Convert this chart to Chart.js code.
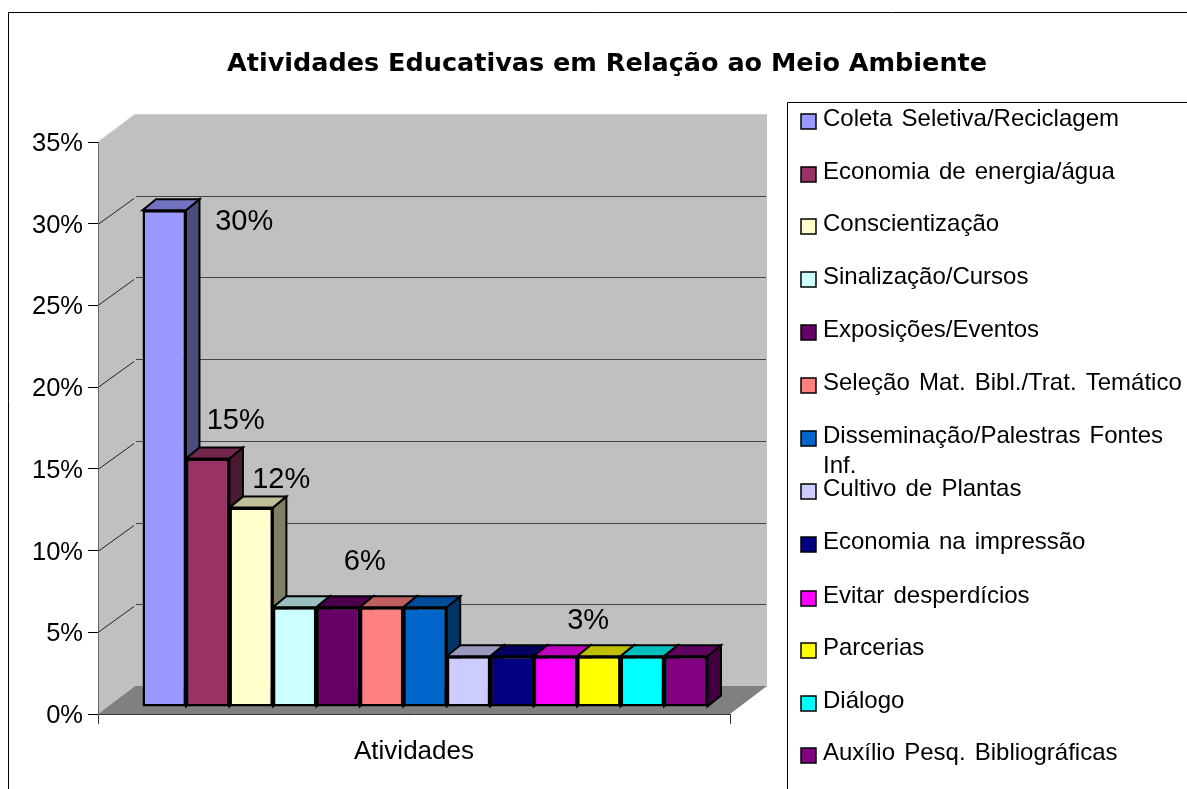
<!DOCTYPE html>
<html><head><meta charset="utf-8">
<script src="https://cdn.jsdelivr.net/npm/chart.js@4/dist/chart.umd.min.js"></script>
<style>html,body{margin:0;padding:0;background:#fff;overflow:hidden}canvas{display:block}</style>
</head><body><canvas id="c" width="1187" height="789"></canvas>
<script>
const titleText = 'Atividades Educativas em Relação ao Meio Ambiente';
const categories = ['Atividades'];
const seriesNames = ['Coleta Seletiva/Reciclagem','Economia de energia/água','Conscientização','Sinalização/Cursos','Exposições/Eventos','Seleção Mat. Bibl./Trat. Temático','Disseminação/Palestras Fontes Inf.','Cultivo de Plantas','Economia na impressão','Evitar desperdícios','Parcerias','Diálogo','Auxílio Pesq. Bibliográficas'];
const seriesValues = [30.4,15.2,12.2,6.1,6.1,6.1,6.1,3.1,3.1,3.1,3.1,3.1,3.1];
const seriesColors = ['#9999FF','#993366','#FFFFCC','#CCFFFF','#660066','#FF8080','#0066CC','#CCCCFF','#000080','#FF00FF','#FFFF00','#00FFFF','#800080'];
const yTicks = [0,5,10,15,20,25,30,35];
const valueLabels = ['30%','15%','12%','6%','3%'];

const FONT = '"Liberation Sans", Arial, sans-serif';
const D = {wdx:37, wdy:-28, bx:11, by:-7, tdx:13.5, tdy:-11};

function shade(hex,f){const n=parseInt(hex.slice(1),16);return `rgb(${((n>>16)&255)*f|0},${((n>>8)&255)*f|0},${(n&255)*f|0})`;}
function poly(ctx,pts,fill,stroke,lw){ctx.beginPath();pts.forEach((p,i)=>i?ctx.lineTo(p[0],p[1]):ctx.moveTo(p[0],p[1]));ctx.closePath();if(fill){ctx.fillStyle=fill;ctx.fill();}if(stroke){ctx.strokeStyle=stroke;ctx.lineWidth=lw||1;ctx.lineJoin='miter';ctx.stroke();}}

const scene = {
  id:'scene',
  afterLayout(chart){ chart.titleBlock.left=0; chart.titleBlock.right=1214; },
  beforeDraw(chart){
    const {ctx,chartArea:a,scales:{y}}=chart;
    ctx.save();
    ctx.fillStyle='#fff';ctx.fillRect(0,0,1187,789);
    ctx.strokeStyle='#000';ctx.lineWidth=1;
    ctx.beginPath();ctx.moveTo(8.5,789);ctx.lineTo(8.5,12.5);ctx.lineTo(1187,12.5);ctx.stroke();
    const {wdx:dx,wdy:dy}=D;
    poly(ctx,[[a.left,a.top],[a.left+dx,a.top+dy],[a.left+dx,a.bottom+dy],[a.left,a.bottom]],'#C0C0C0');
    poly(ctx,[[a.left+dx,a.top+dy],[a.right+dx,a.top+dy],[a.right+dx,a.bottom+dy],[a.left+dx,a.bottom+dy]],'#C0C0C0');
    ctx.strokeStyle='#D0D0D0';ctx.lineWidth=1;
    ctx.beginPath();ctx.moveTo(a.left,a.top);ctx.lineTo(a.left+dx,a.top+dy+.5);ctx.lineTo(a.right+dx,a.top+dy+.5);ctx.stroke();
    poly(ctx,[[a.left,a.bottom],[a.left+dx,a.bottom+dy],[a.right+dx,a.bottom+dy],[a.right,a.bottom]],'#808080');
    yTicks.slice(1,-1).forEach(v=>{
      const py=Math.round(y.getPixelForValue(v))+.5;
      ctx.strokeStyle='#222';ctx.lineWidth=1;
      ctx.beginPath();ctx.moveTo(a.left,py);ctx.lineTo(a.left+dx-1,py+dy+2);ctx.stroke();
      ctx.strokeStyle='#444';
      ctx.beginPath();ctx.moveTo(a.left+dx+1,py+dy);ctx.lineTo(a.right+dx-1,py+dy);ctx.stroke();
    });
    ctx.restore();
  },
  beforeDatasetsDraw(chart){
    const ctx=chart.ctx;
    ctx.save();
    ctx.translate(D.bx,D.by);
    chart.data.datasets.forEach((ds,i)=>{
      const b=chart.getDatasetMeta(i).data[0];
      const l=b.x-b.width/2,r=b.x+b.width/2,t=b.y,bo=b.base,dx=D.tdx,dy=D.tdy;
      poly(ctx,[[r,t],[r+dx,t+dy],[r+dx,bo+dy],[r,bo]],shade(ds.backgroundColor,.5),'#000',2);
      poly(ctx,[[l,t],[l+dx,t+dy],[r+dx,t+dy],[r,t]],shade(ds.backgroundColor,.75),'#000',2);
    });
  },
  afterDatasetsDraw(chart){
    const ctx=chart.ctx;
    ctx.restore();
    const bar=i=>chart.getDatasetMeta(i).data[0];
    const place=[[bar(0).x+D.bx+80,bar(0).y+D.by+12],[bar(1).x+D.bx+28,bar(1).y+D.by-38],[bar(2).x+D.bx+30,bar(2).y+D.by-28],
      [(bar(3).x+bar(6).x)/2+D.bx+5,bar(3).y+D.by-45],[(bar(7).x+bar(12).x)/2+D.bx+11,bar(7).y+D.by-35]];
    ctx.save();
    ctx.fillStyle='#000';ctx.font='29px '+FONT;ctx.textAlign='center';ctx.textBaseline='middle';
    valueLabels.forEach((t,i)=>ctx.fillText(t,place[i][0],place[i][1]));
    const lx=787.5,ly=102.5;
    ctx.strokeStyle='#000';ctx.lineWidth=1;
    ctx.beginPath();ctx.moveTo(lx,789);ctx.lineTo(lx,ly);ctx.lineTo(1187,ly);ctx.stroke();
    ctx.font='24px '+FONT;ctx.textAlign='left';ctx.textBaseline='middle';ctx.wordSpacing='2.5px';
    const swatchTop=[114,167,219,272,325,378,431,484,537,591,643,696,748];
    seriesNames.forEach((n,i)=>{
      const st=swatchTop[i],ty=st+5.5;
      ctx.fillStyle=seriesColors[i];ctx.strokeStyle='#000';ctx.lineWidth=1.5;
      ctx.fillRect(801,st,15,15);ctx.strokeRect(801,st,15,15);
      ctx.fillStyle='#000';
      if(n.endsWith(' Inf.')){ctx.fillText(n.slice(0,-5),823,ty);ctx.fillText('Inf.',823,ty+30);}
      else ctx.fillText(n,823,ty);
    });
    ctx.restore();
  }
};

new Chart(document.getElementById('c'),{
  type:'bar',
  data:{labels:categories,datasets:seriesNames.map((n,i)=>({label:n,data:[seriesValues[i]],backgroundColor:seriesColors[i],borderColor:'#000',borderWidth:2.5,borderSkipped:false,clip:false}))},
  plugins:[scene],
  options:{
    responsive:false,animation:false,
    layout:{autoPadding:false,padding:{left:28,right:457,top:49,bottom:0}},
    datasets:{bar:{categoryPercentage:565/632,barPercentage:1}},
    plugins:{
      legend:{display:false},tooltip:{enabled:false},
      title:{display:true,text:titleText,color:'#000',font:{family:'"DejaVu Sans"',size:25.5,weight:'bold'},padding:{top:0,bottom:62.4}}
    },
    scales:{
      x:{offset:true,afterFit(s){s.height=75;},
        border:{color:'#333'},
        grid:{drawOnChartArea:false,drawTicks:true,tickLength:10,color:'#333',offset:true},
        ticks:{color:'#000',padding:12,maxRotation:0,font:{family:FONT,size:26}}},
      y:{min:0,max:35,afterFit(s){s.width=70;},
        border:{color:'#666'},
        grid:{drawOnChartArea:false,tickLength:10,color:'#000'},
        ticks:{stepSize:5,color:'#000',padding:5,labelOffset:2,callback:v=>v+'%',font:{family:FONT,size:25.5}}}
    }
  }
});
</script></body></html>
